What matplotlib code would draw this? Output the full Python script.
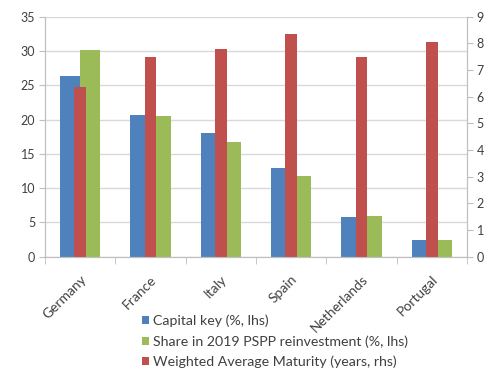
import matplotlib.pyplot as plt
import numpy as np

countries = ["Germany", "France", "Italy", "Spain", "Netherlands", "Portugal"]
capital_key = [26.3, 20.6, 18.0, 12.9, 5.8, 2.5]
pspp_share = [30.1, 20.5, 16.7, 11.7, 5.9, 2.4]
wam_years = [6.37, 7.5, 7.78, 8.34, 7.5, 8.06]

blue = "#4F81BD"
green = "#9BBB59"
red = "#C0504D"
grid_col = "#D9D9D9"
text_col = "#404040"

plt.rcParams["font.family"] = ["Lato", "DejaVu Sans"]

fig = plt.figure(figsize=(5.01, 3.69), dpi=100)
ax = fig.add_axes([0.0898, 0.3043, 0.8423, 0.6504])
ax2 = ax.twinx()

x = np.arange(len(countries))
w = 0.286

b1 = ax.bar(x - w / 2, capital_key, w, color=blue, label="Capital key (%, lhs)", zorder=2)
b2 = ax.bar(x + w / 2, pspp_share, w, color=green,
            label="Share in 2019 PSPP reinvestment (%, lhs)", zorder=2)
b3 = ax2.bar(x, wam_years, 0.17, color=red,
             label="Weighted Average Maturity (years, rhs)", zorder=2)

ax.set_xlim(-0.5, len(countries) - 0.5)
ax.set_ylim(0, 35)
ax.set_yticks(range(0, 36, 5))
ax2.set_ylim(0, 9)
ax2.set_yticks(range(0, 10))

ax.grid(axis="y", color=grid_col, linewidth=1, zorder=0)
ax.set_axisbelow(True)

for a in (ax, ax2):
    for s in a.spines.values():
        s.set_color("#BFBFBF")
    a.spines["top"].set_visible(False)

ax.set_xticks(x)
ax.set_xticklabels(countries, rotation=45, ha="right", rotation_mode="anchor",
                   fontsize=10, color=text_col)
ax.set_xticks(np.arange(-0.5, len(countries)), minor=True)
ax.tick_params(axis="x", which="major", length=0, pad=12)
ax.tick_params(axis="x", which="minor", length=5, color="#BFBFBF")
ax.tick_params(axis="y", length=4, color="#BFBFBF", labelsize=9, labelcolor=text_col, pad=3)
ax2.tick_params(axis="y", length=4, color="#BFBFBF", labelsize=9, labelcolor=text_col, pad=3)

fig.legend(handles=[b1, b2, b3], loc="upper left", bbox_to_anchor=(0.283, 0.147),
           frameon=False, fontsize=10.2, handlelength=0.5, handleheight=0.5,
           handletextpad=0.3, labelspacing=0.55, borderaxespad=0, borderpad=0,
           labelcolor=text_col)

fig.savefig("out.png", dpi=100)
